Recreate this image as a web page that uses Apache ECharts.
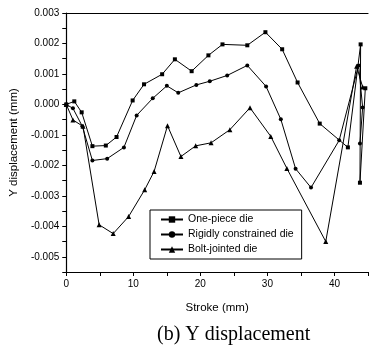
<!DOCTYPE html>
<html>
<head>
<meta charset="utf-8">
<script src="https://cdn.jsdelivr.net/npm/echarts@6/dist/echarts.min.js"></script>
<style>
  html, body { margin: 0; padding: 0; background: #fff; }
  #chart { width: 371px; height: 345px; }
</style>
</head>
<body>
<div id="chart"></div>
<script>
// series names as in the legend
const seriesNames = ["One-piece die", "Rigidly constrained die", "Bolt-jointed die"];

// [stroke (mm), Y displacement (mm)]
const onePiece = [
  [0, 0], [1.2, 0.0001], [2.3, -0.00026], [3.9, -0.00137], [5.9, -0.00135],
  [7.5, -0.00107], [9.9, 0.00013], [11.6, 0.00066], [14.3, 0.00099], [16.2, 0.00148],
  [18.7, 0.00109], [21.2, 0.00161], [23.3, 0.00197], [27.0, 0.00194], [29.7, 0.00237],
  [32.2, 0.00181], [34.5, 0.00072], [37.8, -0.00063], [42.0, -0.00141], [43.9, 0.00197],
  [43.8, -0.00257], [44.6, 0.00053]
];
const rigidlyConstrained = [
  [0, 0], [1.0, -0.00013], [2.4, -0.00072], [3.9, -0.00184], [6.1, -0.00178],
  [8.6, -0.00141], [10.5, -0.00036], [12.9, 0.0002], [15.0, 0.00061], [16.7, 0.00038],
  [19.4, 0.00064], [21.4, 0.00076], [24.0, 0.00095], [27.0, 0.00128], [29.8, 0.00059],
  [32.0, -0.00049], [34.2, -0.00211], [36.5, -0.00273], [40.7, -0.00118], [43.6, 0.00128],
  [44.2, -0.0001], [43.8, -0.00128]
];
const boltJointed = [
  [0, 0], [1.0, -0.00051], [2.5, -0.00072], [4.9, -0.00395], [7.0, -0.00424],
  [9.3, -0.00368], [11.7, -0.0028], [13.1, -0.0022], [15.1, -0.0007], [17.1, -0.00171],
  [19.3, -0.00136], [21.6, -0.00126], [24.4, -0.00083], [27.4, -0.00011], [30.5, -0.00105],
  [32.9, -0.0021], [38.7, -0.0045], [43.3, 0.00125], [44.2, 0.00057]
];

// axis ranges (labels only every second tick)
const xRange = [0, 45];
const yRange = [-0.0055, 0.003];

const chart = echarts.init(document.getElementById("chart"));

const font = "Liberation Sans, Arial, sans-serif";

const makeSeries = (name, data, symbol, size) => ({
  name: name,
  type: "line",
  data: data,
  symbol: symbol,
  symbolSize: size,
  showSymbol: true,
  lineStyle: { color: "#000", width: 1 },
  itemStyle: { color: "#000" },
  emphasis: { disabled: true },
  animation: false
});

chart.setOption({
  backgroundColor: "#fff",
  animation: false,
  textStyle: { fontFamily: font },
  title: {
    text: "(b) Y displacement",
    left: 152,
    top: 320,
    textStyle: { fontFamily: "Liberation Serif, Times New Roman, serif", fontSize: 20, fontWeight: "normal", color: "#000" }
  },
  grid: { left: 61, right: 0, top: 13, bottom: 73 },
  legend: {
    data: seriesNames,
    orient: "vertical",
    left: 150,
    top: 210,
    padding: [4, 8, 4, 10],
    itemWidth: 22,
    itemHeight: 8,
    itemGap: 4,
    borderColor: "#000",
    borderWidth: 1,
    backgroundColor: "#fff",
    textStyle: { fontSize: 10.5, color: "#000", fontFamily: font }
  },
  xAxis: [
    {
      type: "value",
      min: xRange[0],
      max: xRange[1],
      interval: 5,
      name: "Stroke (mm)",
      nameLocation: "middle",
      nameGap: 30,
      nameTextStyle: { fontSize: 11.5, color: "#000" },
      axisLine: { onZero: false, lineStyle: { color: "#000", width: 1.2 } },
      axisTick: { lineStyle: { color: "#000" }, length: 4 },
      axisLabel: {
        color: "#000",
        fontSize: 10,
        margin: 7,
        formatter: (v) => (Math.round(v) % 10 === 0 ? String(Math.round(v)) : "")
      },
      splitLine: { show: false }
    },
    {
      type: "value",
      position: "top",
      min: xRange[0],
      max: xRange[1],
      axisLine: { onZero: false, lineStyle: { color: "#000", width: 1.2 } },
      axisTick: { show: false },
      axisLabel: { show: false },
      splitLine: { show: false }
    }
  ],
  yAxis: {
    type: "value",
    min: yRange[0],
    max: yRange[1],
    interval: 0.0005,
    name: "Y displacement (mm)",
    nameLocation: "middle",
    nameGap: 46,
    nameRotate: 90,
    nameTextStyle: { fontSize: 11.5, color: "#000" },
    axisLine: { show: true, onZero: false, lineStyle: { color: "#000", width: 1.2 } },
    axisTick: { show: true, lineStyle: { color: "#000" }, length: 4 },
    axisLabel: {
      color: "#000",
      fontSize: 10,
      margin: 7,
      formatter: (v) => {
        const k = Math.round(v * 10000);
        if (k % 10 !== 0) return "";
        return (k / 10000).toFixed(3);
      }
    },
    splitLine: { show: false }
  },
  series: [
    makeSeries(seriesNames[0], onePiece, "rect", 4),
    makeSeries(seriesNames[1], rigidlyConstrained, "circle", 4),
    makeSeries(seriesNames[2], boltJointed, "triangle", 5)
  ]
});
</script>
</body>
</html>
